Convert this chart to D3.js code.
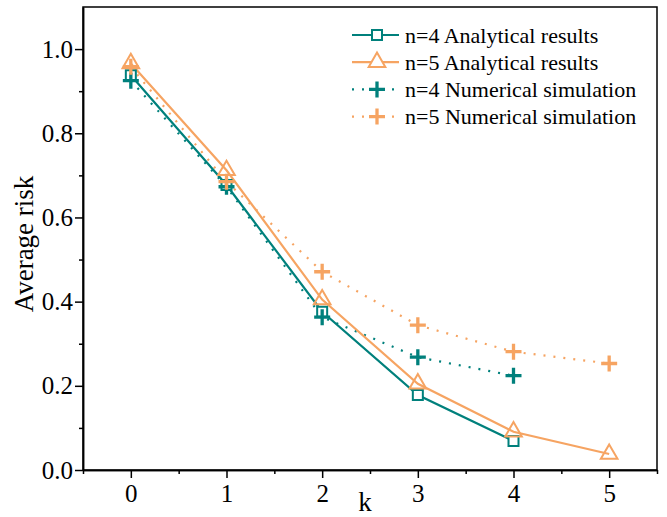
<!DOCTYPE html>
<html>
<head>
<meta charset="utf-8">
<script src="https://cdn.jsdelivr.net/npm/d3@7"></script>
<style>
  body { margin: 0; background: #fff; }
  svg text { font-family: "Times New Roman", "Liberation Serif", Tinos, "DejaVu Serif", serif; fill: #000; }
</style>
</head>
<body>
<div id="chart"></div>
<script>
var k_values = [0, 1, 2, 3, 4, 5];
var n4_analytical = [0.938, 0.677, 0.376, 0.178, 0.069];
var n5_analytical = [0.966, 0.712, 0.405, 0.205, 0.091, 0.038];
var n4_numerical = [0.925, 0.673, 0.363, 0.268, 0.224];
var n5_numerical = [0.958, 0.685, 0.471, 0.344, 0.281, 0.253];
var x_ticks = [0, 1, 2, 3, 4, 5];
var y_ticks = [0, 0.2, 0.4, 0.6, 0.8, 1.0];

var teal = '#00807c';
var orange = '#f6a462';
var serif = '"Times New Roman", "Liberation Serif", Tinos, "DejaVu Serif", serif';

var width = 667, height = 517;
var margin = {top: 7, right: 10, bottom: 47, left: 83};

var svg = d3.select('#chart').append('svg')
  .attr('width', width)
  .attr('height', height)
  .attr('font-family', serif);

var x = d3.scaleLinear().domain([-0.5, 5.5]).range([margin.left, width - margin.right]);
var y = d3.scaleLinear().domain([0, 1.1]).range([height - margin.bottom, margin.top]);

// frame
svg.append('rect')
  .attr('x', x(-0.5)).attr('y', y(1.1))
  .attr('width', x(5.5) - x(-0.5)).attr('height', y(0) - y(1.1))
  .style('fill', 'none').style('stroke', '#000').style('stroke-width', 1.5);

// minor ticks
var x_minor = [-0.5, 0.5, 1.5, 2.5, 3.5, 4.5, 5.5];
var y_minor = [0.1, 0.3, 0.5, 0.7, 0.9];

var xAxis = svg.append('g')
  .attr('transform', 'translate(0,' + y(0) + ')')
  .call(d3.axisBottom(x).tickValues(x_ticks).tickFormat(d3.format('d')).tickSize(8).tickSizeOuter(0));
svg.append('g')
  .attr('transform', 'translate(0,' + y(0) + ')')
  .call(d3.axisBottom(x).tickValues(x_minor).tickFormat('').tickSize(4).tickSizeOuter(0));

var yAxis = svg.append('g')
  .attr('transform', 'translate(' + x(-0.5) + ',0)')
  .call(d3.axisLeft(y).tickValues(y_ticks).tickFormat(d3.format('.1f')).tickSize(8).tickSizeOuter(0));
svg.append('g')
  .attr('transform', 'translate(' + x(-0.5) + ',0)')
  .call(d3.axisLeft(y).tickValues(y_minor).tickFormat('').tickSize(4).tickSizeOuter(0));

svg.selectAll('g').attr('font-family', serif);
svg.selectAll('.domain').style('stroke', '#000').style('stroke-width', 1.5);
svg.selectAll('.tick line').style('stroke', '#000').style('stroke-width', 1.5);

xAxis.selectAll('text')
  .style('font-size', '25px')
  .style('font-family', serif)
  .attr('dy', '0.71em')
  .attr('y', 14);
yAxis.selectAll('text')
  .style('font-size', '25px')
  .style('font-family', serif)
  .attr('x', -10);

// axis titles
svg.append('text')
  .attr('x', 365).attr('y', 511)
  .attr('text-anchor', 'middle')
  .style('font-size', '27px')
  .text('k');

svg.append('text')
  .attr('transform', 'translate(33,' + 244 + ') rotate(-90)')
  .attr('text-anchor', 'middle')
  .style('font-size', '27px')
  .text('Average risk');

var line = d3.line()
  .x(function(d, i){ return x(k_values[i]); })
  .y(function(d){ return y(d); });

// dotted numerical lines
svg.append('path').datum(n5_numerical)
  .attr('d', line)
  .style('fill', 'none').style('stroke', orange).style('stroke-width', 2.2)
  .style('stroke-dasharray', '2 8');
svg.append('path').datum(n4_numerical)
  .attr('d', line)
  .style('fill', 'none').style('stroke', teal).style('stroke-width', 2.2)
  .style('stroke-dasharray', '2 8');

// solid analytical lines
svg.append('path').datum(n4_analytical)
  .attr('d', line)
  .style('fill', 'none').style('stroke', teal).style('stroke-width', 2.2);
svg.append('path').datum(n5_analytical)
  .attr('d', line)
  .style('fill', 'none').style('stroke', orange).style('stroke-width', 2.2);

var sq = d3.symbol().type(d3.symbolSquare).size(100);
var tri = d3.symbol().type(d3.symbolTriangle).size(120);

function plus(g, color){
  g.append('path')
    .attr('d', 'M-8,0H8M0,-8V8')
    .style('stroke', color).style('stroke-width', 3.3).style('fill', 'none');
}

svg.selectAll('.sq').data(n4_analytical).enter().append('path')
  .attr('class', 'sq')
  .attr('transform', function(d, i){ return 'translate(' + x(k_values[i]) + ',' + y(d) + ')'; })
  .attr('d', sq)
  .style('fill', '#fff').style('stroke', teal).style('stroke-width', 2);

svg.selectAll('.tri').data(n5_analytical).enter().append('path')
  .attr('class', 'tri')
  .attr('transform', function(d, i){ return 'translate(' + x(k_values[i]) + ',' + y(d) + ')'; })
  .attr('d', tri)
  .style('fill', 'none').style('stroke', orange).style('stroke-width', 2);

svg.selectAll('.p4').data(n4_numerical).enter().append('g')
  .attr('class', 'p4')
  .attr('transform', function(d, i){ return 'translate(' + x(k_values[i]) + ',' + y(d) + ')'; })
  .each(function(){ plus(d3.select(this), teal); });

svg.selectAll('.p5').data(n5_numerical).enter().append('g')
  .attr('class', 'p5')
  .attr('transform', function(d, i){ return 'translate(' + x(k_values[i]) + ',' + y(d) + ')'; })
  .each(function(){ plus(d3.select(this), orange); });

// legend
var legend_items = [
  {label: 'n=4 Analytical results', color: teal, dash: null, marker: 'sq'},
  {label: 'n=5 Analytical results', color: orange, dash: null, marker: 'tri'},
  {label: 'n=4 Numerical simulation', color: teal, dash: '2 8', marker: 'plus'},
  {label: 'n=5 Numerical simulation', color: orange, dash: '2 8', marker: 'plus'}
];

var legend = svg.append('g');
legend_items.forEach(function(d, i){
  var cy = 35 + i * 27.2;
  var row = legend.append('g').attr('transform', 'translate(0,' + cy + ')');
  row.append('line')
    .attr('x1', 352).attr('x2', 399).attr('y1', 0).attr('y2', 0)
    .style('stroke', d.color).style('stroke-width', 2.2)
    .style('stroke-dasharray', d.dash);
  var m = row.append('g').attr('transform', 'translate(377,0)');
  if (d.marker === 'sq'){
    m.append('path').attr('d', sq).style('fill', '#fff').style('stroke', d.color).style('stroke-width', 2);
  } else if (d.marker === 'tri'){
    m.append('path').attr('d', tri).style('fill', '#fff').style('stroke', d.color).style('stroke-width', 2);
  } else {
    plus(m, d.color);
  }
  row.append('text')
    .attr('x', 405).attr('y', 0).attr('dy', '0.35em')
    .style('font-size', '22px')
    .style('font-family', serif)
    .text(d.label);
});
</script>
</body>
</html>
